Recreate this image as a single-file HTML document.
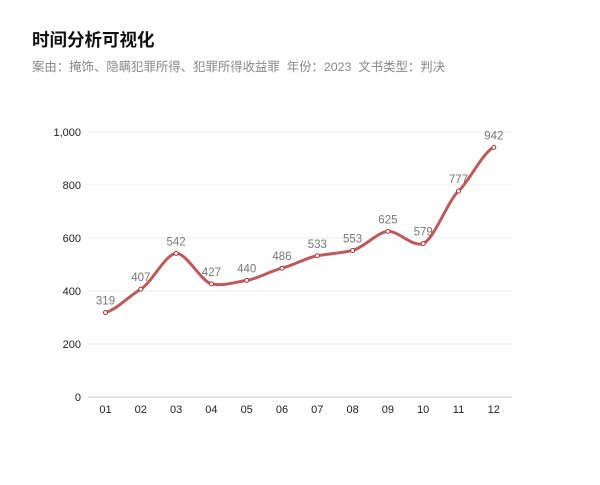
<!DOCTYPE html>
<html><head><meta charset="utf-8"><style>
body{margin:0;background:#fff;width:600px;height:485px;overflow:hidden;font-family:"Liberation Sans","Noto Sans CJK SC",sans-serif}
.t{position:absolute;left:32px;top:27px;font-size:17.5px;font-weight:bold;color:#111}
.s{position:absolute;left:32px;top:57px;font-size:12.4px;color:#888}
</style></head><body>
<div class="t">时间分析可视化</div>
<div class="s">案由：掩饰、隐瞒犯罪所得、犯罪所得收益罪&nbsp; 年份：2023&nbsp; 文书类型：判决</div>
<svg id="c" width="600" height="485" style="position:absolute;left:0;top:0" font-family="Liberation Sans, sans-serif"></svg>
<script>
var s=document.getElementById('c'),h='';
var v=[319,407,542,427,440,486,533,553,625,579,777,942];
function Y(a){return 397-a*0.265}
function X(i){return 105.5+i*35.3}
for(var k=0;k<=5;k++){var y=Y(k*200);h+='<line x1="88" x2="512" y1="'+y+'" y2="'+y+'" stroke="'+(k?'#eee':'#ccc')+'"/>';
h+='<text x="81" y="'+(y+4)+'" text-anchor="end" font-size="11" fill="#222">'+(k==5?'1,000':k*200)+'</text>';}
for(var i=0;i<12;i++)h+='<text x="'+X(i)+'" y="413" text-anchor="middle" font-size="11" fill="#222">'+(i<9?'0':'')+(i+1)+'</text>';
var p=v.map(function(a,i){return[X(i),Y(a)]});
var d='M'+p[0];
for(var i=0;i<11;i++){var p0=p[i?i-1:0],p1=p[i],p2=p[i+1],p3=p[i+2<12?i+2:11],t=0.1,tx=0.3;
d+=' C'+(p1[0]+35.3*tx)+','+(p1[1]+(p2[1]-p0[1])*t)+' '+(p2[0]-35.3*tx)+','+(p2[1]-(p3[1]-p1[1])*t)+' '+p2[0]+','+p2[1];}
h+='<path d="'+d+'" fill="none" stroke="#c05a5a" stroke-width="3"/>';
p.forEach(function(q,i){h+='<circle cx="'+q[0]+'" cy="'+q[1]+'" r="2" fill="#fff" stroke="#a33" stroke-width="1"/>';
h+='<text x="'+q[0]+'" y="'+(q[1]-8)+'" text-anchor="middle" font-size="11.5" fill="#777">'+v[i]+'</text>';});
s.innerHTML=h;
</script>
</body></html>
